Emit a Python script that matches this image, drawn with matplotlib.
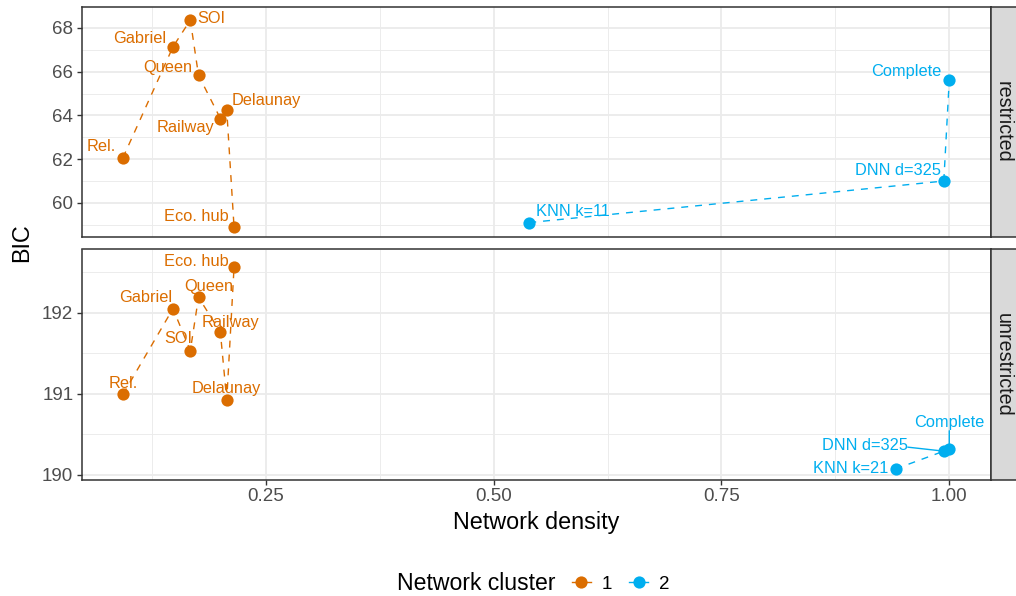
import matplotlib
matplotlib.use("Agg")
import matplotlib.pyplot as plt
from matplotlib.lines import Line2D
import numpy as np

plt.rcParams['font.family'] = ['Liberation Sans', 'DejaVu Sans']

# ---------------- data ----------------
names_restricted = ['Rel.', 'Gabriel', 'SOI', 'Queen', 'Railway', 'Delaunay',
                    'Eco. hub', 'KNN k=11', 'DNN d=325', 'Complete']
density_restricted = [0.093, 0.148, 0.167, 0.176, 0.200, 0.207, 0.215, 0.539, 0.994, 1.000]
bic_restricted = [62.06, 67.14, 68.36, 65.84, 63.86, 64.24, 58.90, 59.10, 61.00, 65.62]
cluster_restricted = [1, 1, 1, 1, 1, 1, 1, 2, 2, 2]

names_unrestricted = ['Rel.', 'Gabriel', 'SOI', 'Queen', 'Railway', 'Delaunay',
                      'Eco. hub', 'KNN k=21', 'DNN d=325', 'Complete']
density_unrestricted = [0.093, 0.148, 0.167, 0.176, 0.200, 0.207, 0.215, 0.941, 0.994, 1.000]
bic_unrestricted = [190.99, 192.05, 191.53, 192.19, 191.76, 190.92, 192.56, 190.07, 190.29, 190.32]
cluster_unrestricted = [1, 1, 1, 1, 1, 1, 1, 2, 2, 2]

panel_names = ['restricted', 'unrestricted']
cluster_levels = [1, 2]
x_ticks = [0.25, 0.50, 0.75, 1.00]
x_ticklabels = ['0.25', '0.50', '0.75', '1.00']

# ---------------- style / layout ----------------
colors = {1: '#DB6D00', 2: '#00AEEF'}
W, H = 1016, 596
fig = plt.figure(figsize=(W / 100, H / 100), dpi=100)

# label offsets in pixels (dx, dy up) -- layout only
label_offsets = {
    'restricted': {
        'Rel.': (-22, 11), 'Gabriel': (-33, 8), 'SOI': (21, 2), 'Queen': (-31, 8),
        'Railway': (-35, -9), 'Delaunay': (40, 10), 'Eco. hub': (-38, 10),
        'KNN k=11': (44, 11), 'DNN d=325': (-46, 11), 'Complete': (-43, 9)},
    'unrestricted': {
        'Rel.': (0, 11), 'Gabriel': (-27, 11), 'SOI': (-12, 12), 'Queen': (10, 11),
        'Railway': (10, 10), 'Delaunay': (0, 12), 'Eco. hub': (-38, 6),
        'KNN k=21': (-45, 0), 'DNN d=325': (-79, 6), 'Complete': (0, 26)},
}
# labels joined to their point by a solid segment: (start dx, start dy) in pixels
segment_labels = {('unrestricted', 'DNN d=325'): (-36, 4),
                  ('unrestricted', 'Complete'): (0, 18)}

left_px, right_px = 81.7, 991
panel_px = [(7, 237), (249.5, 479.5)]
ylims = [(58.44, 68.96), (189.94, 192.78)]
yticks = [[60, 62, 64, 66, 68], [190, 191, 192]]
yminor = [[59, 61, 63, 65, 67], [190.5, 191.5, 192.5]]
xlim = (0.0478, 1.0458)
xminor = [0.125, 0.375, 0.625, 0.875]

datasets = [
    (names_restricted, density_restricted, bic_restricted, cluster_restricted),
    (names_unrestricted, density_unrestricted, bic_unrestricted, cluster_unrestricted),
]

border_col = '#333333'
grid_col = '#EBEBEB'

for i, (pname, (names, dens, bic, clus)) in enumerate(zip(panel_names, datasets)):
    top, bot = panel_px[i]
    ax = fig.add_axes([left_px / W, 1 - bot / H, (right_px - left_px) / W, (bot - top) / H])
    ax.set_xlim(*xlim)
    ax.set_ylim(*ylims[i])
    ax.set_xticks(x_ticks)
    ax.set_xticks(xminor, minor=True)
    ax.set_yticks(yticks[i])
    ax.set_yticks(yminor[i], minor=True)
    ax.grid(True, which='major', color=grid_col, lw=1.3, zorder=0)
    ax.grid(True, which='minor', color=grid_col, lw=0.65, zorder=0)
    ax.set_axisbelow(True)
    for s in ax.spines.values():
        s.set_color(border_col)
        s.set_linewidth(1.1)
    ax.tick_params(axis='both', which='major', length=3.5, width=1.0, color=border_col,
                   labelsize=13.5, labelcolor='#4D4D4D', pad=2.5)
    ax.tick_params(axis='both', which='minor', length=0)
    ax.set_yticklabels([str(v) for v in yticks[i]])
    if i == 0:
        ax.tick_params(axis='x', which='both', length=0, labelbottom=False)
    else:
        ax.set_xticklabels(x_ticklabels)

    names = np.array(names)
    dens = np.array(dens)
    bic = np.array(bic)
    clus = np.array(clus)
    for c in cluster_levels:
        m = clus == c
        order = np.argsort(dens[m])
        xs, ys = dens[m][order], bic[m][order]
        ax.plot(xs, ys, ls=(0, (5, 5)), lw=1.0, color=colors[c], zorder=2)
        ax.plot(xs, ys, ls='none', marker='o', ms=8.8, color=colors[c],
                markeredgewidth=0, zorder=3)
    for nm, x, y, c in zip(names, dens, bic, clus):
        dx, dy = label_offsets[pname][nm]
        if (pname, nm) in segment_labels:
            sdx, sdy = segment_labels[(pname, nm)]
            ax.annotate('', xy=(x, y), xytext=(sdx, sdy), textcoords='offset pixels',
                        arrowprops=dict(arrowstyle='-', color=colors[c], lw=1.0,
                                        shrinkA=0, shrinkB=0),
                        zorder=2.5)
        ax.annotate(nm, xy=(x, y), xytext=(dx, dy), textcoords='offset pixels',
                    ha='center', va='center', fontsize=11.8, color=colors[c],
                    zorder=4)

    # facet strip
    sax = fig.add_axes([right_px / W, 1 - bot / H, 27 / W, (bot - top) / H])
    sax.set_facecolor('#D9D9D9')
    sax.set_xticks([])
    sax.set_yticks([])
    for s in sax.spines.values():
        s.set_color(border_col)
        s.set_linewidth(1.1)
    sax.text(0.46, 0.5, pname, rotation=-90, ha='center', va='center',
             fontsize=14.2, color='#1A1A1A', transform=sax.transAxes)

# axis titles
fig.text((left_px + right_px) / 2 / W, 1 - 522 / H, 'Network density',
         ha='center', va='center', fontsize=16.8, color='black')
fig.text(22 / W, 1 - 243 / H, 'BIC', rotation=90, ha='center', va='center',
         fontsize=16.8, color='black')

# legend
fig.text(397 / W, 1 - 584 / H, 'Network cluster', ha='left', va='center',
         fontsize=16.6, color='black')
handles = [Line2D([0], [0], color=colors[c], lw=1.0, marker='o', ms=8.8,
                  markeredgewidth=0) for c in cluster_levels]
fig.legend(handles, [str(c) for c in cluster_levels], ncol=2, frameon=False,
           loc='center left', bbox_to_anchor=(572 / W, 1 - 584 / H),
           fontsize=13.5, handlelength=1.0, handletextpad=0.6, columnspacing=0.9,
           borderpad=0, borderaxespad=0)

fig.savefig('out.png', dpi=100)
